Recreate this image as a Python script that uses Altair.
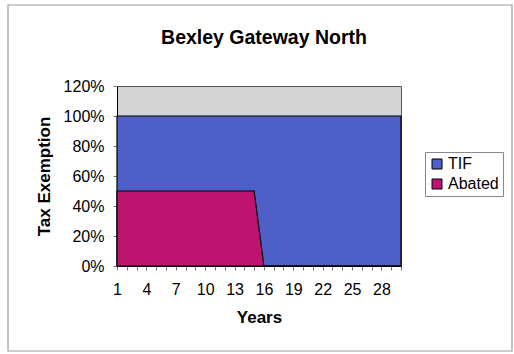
import altair as alt
import pandas as pd

years = list(range(1, 31))
tif = [1.0] * 30
abated = [0.5] * 15 + [0.0] * 15
series_names = ["TIF", "Abated"]
x_tick_values = list(range(1, 31))
y_tick_values = [0, 0.2, 0.4, 0.6, 0.8, 1.0, 1.2]

df_tif = pd.DataFrame({"Year": years, "Value": tif, "Series": "TIF"})
df_ab = pd.DataFrame({"Year": years, "Value": abated, "Series": "Abated"})

color = alt.Color(
    "Series:N",
    scale=alt.Scale(domain=series_names, range=["#4f5fc8", "#be1470"]),
    legend=alt.Legend(
        title=None, orient="none", legendX=308, legendY=66,
        symbolType="square", symbolSize=100, symbolStrokeColor="black",
        symbolStrokeWidth=1, labelFont="Liberation Sans", labelFontSize=16,
        labelColor="black", strokeColor="#888888", padding=4, rowPadding=4,
        fillColor="white", labelOffset=3,
    ),
)

x = alt.X(
    "Year:Q",
    scale=alt.Scale(domain=[1, 30], nice=False),
    axis=alt.Axis(
        title="Years", values=x_tick_values,
        labelExpr="(datum.value - 1) % 3 == 0 ? datum.value : ''",
        tickSize=4, tickColor="#777777", labelPadding=11, domainColor="black",
        labelFont="Liberation Sans", labelFontSize=16, labelColor="black",
        titleFont="Liberation Sans", titleFontSize=17, titleFontWeight="bold",
        titlePadding=12, grid=False, labelFlush=False,
    ),
)
y = alt.Y(
    "Value:Q",
    scale=alt.Scale(domain=[0, 1.2], nice=False),
    axis=alt.Axis(
        title="Tax Exemption", values=y_tick_values, format=".0%",
        tickSize=4, tickColor="#777777", labelPadding=9, domainColor="black",
        labelFont="Liberation Sans", labelFontSize=16, labelColor="black",
        titleFont="Liberation Sans", titleFontSize=17, titleFontWeight="bold",
        titlePadding=10, grid=False,
    ),
)

tif_layer = alt.Chart(df_tif).mark_area(stroke="black", strokeWidth=1.2, opacity=1).encode(
    x=x, y=y, color=color
)
ab_layer = alt.Chart(df_ab).mark_area(stroke="black", strokeWidth=1.2, opacity=1).encode(
    x=x, y=y, color=color
)

frame = alt.Chart(pd.DataFrame({"a": [0]})).mark_rect(
    fill=None, stroke="#9a9a9a", strokeWidth=1.2, clip=False
).encode(
    x=alt.value(8 - 117), x2=alt.value(512 - 117),
    y=alt.value(5 - 86), y2=alt.value(351 - 86),
)

chart = alt.layer(tif_layer, ab_layer, frame).properties(
    width=284, height=180,
    title=alt.TitleParams(
        "Bexley Gateway North", font="Liberation Sans", fontSize=19.5,
        fontWeight="bold", color="black", anchor="middle", frame="group",
        dx=5, offset=-44,
    ),
    padding={"left": 117, "top": 86, "right": 113, "bottom": 88},
    autosize=alt.AutoSizeParams(type="none"),
    background="white",
).configure_view(
    fill="#d4d4d4", stroke="#555555", strokeWidth=1
)

chart.save("out.html", embed_options={"renderer": "svg", "actions": False})
